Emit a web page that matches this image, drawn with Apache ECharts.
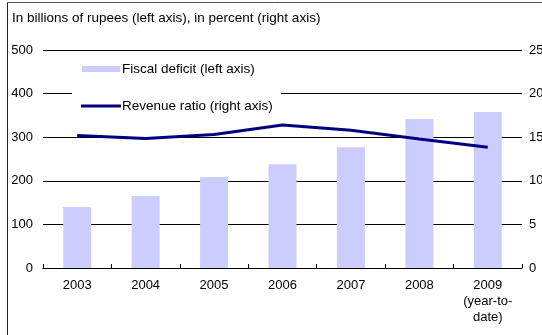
<!DOCTYPE html>
<html>
<head>
<meta charset="utf-8">
<script src="https://cdn.jsdelivr.net/npm/echarts@6/dist/echarts.min.js"></script>
<style>
  html, body { margin: 0; padding: 0; background: #fff; }
  #chart { width: 542px; height: 335px; }
</style>
</head>
<body>
<div id="chart"></div>
<script>
// Fiscal deficit (billions of rupees) and revenue ratio (percent), 2003-2009
var years = ['2003', '2004', '2005', '2006', '2007', '2008', '2009\n(year-to-\ndate)'];
var fiscalDeficit = [140, 165, 209, 238, 277, 342, 358];
var revenueRatio = [15.2, 14.85, 15.3, 16.4, 15.8, 14.8, 13.85];
var leftTicks = [0, 500, 100];   // min, max, step
var rightTicks = [0, 25, 5];

var FONT = 'Liberation Sans, Arial, sans-serif';

var chart = echarts.init(document.getElementById('chart'), null, { renderer: 'canvas' });

chart.setOption({
  animation: false,
  backgroundColor: '#fff',
  textStyle: { fontFamily: FONT, color: '#000' },
  title: {
    text: 'In billions of rupees (left axis), in percent (right axis)',
    left: 8,
    top: 11,
    padding: [0, 4],
    textStyle: { fontFamily: FONT, fontSize: 13.5, fontWeight: 'normal', color: '#000' }
  },
  grid: {
    left: 43, right: 20, top: 50, bottom: 67,
    containLabel: false,
    outerBoundsMode: 'none'
  },
  legend: [
    {
      data: [{ name: 'Fiscal deficit (left axis)', icon: 'rect' }],
      orient: 'vertical',
      left: 73,
      top: 58,
      padding: [4, 9, 4, 9],
      itemWidth: 38,
      itemHeight: 6,
      itemGap: 0,
      backgroundColor: '#fff',
      textStyle: { fontFamily: FONT, fontSize: 13.5, color: '#000', padding: [0, 0, 0, -3] }
    },
    {
      data: [{ name: 'Revenue ratio (right axis)', icon: 'rect' }],
      orient: 'vertical',
      left: 72,
      top: 90,
      padding: [9, 8, 6, 9],
      itemWidth: 40,
      itemHeight: 3,
      itemGap: 0,
      backgroundColor: '#fff',
      textStyle: { fontFamily: FONT, fontSize: 13.5, color: '#000', padding: [0, 0, 0, -4] }
    }
  ],
  xAxis: {
    type: 'category',
    data: years,
    boundaryGap: true,
    axisLine: { show: true, lineStyle: { color: '#000', width: 1 } },
    axisTick: { show: true, inside: true, length: 4, lineStyle: { color: '#000' } },
    axisLabel: { fontFamily: FONT, fontSize: 13, color: '#000', margin: 9, lineHeight: 16 },
    splitLine: { show: false }
  },
  yAxis: [
    {
      type: 'value',
      min: leftTicks[0],
      max: leftTicks[1],
      interval: leftTicks[2],
      axisLine: { show: false },
      axisTick: { show: false },
      axisLabel: { fontFamily: FONT, fontSize: 13, color: '#000', margin: 10 },
      splitLine: { show: true, lineStyle: { color: '#000', width: 1.2 } }
    },
    {
      type: 'value',
      min: rightTicks[0],
      max: rightTicks[1],
      interval: rightTicks[2],
      position: 'right',
      axisLine: { show: false },
      axisTick: { show: false },
      axisLabel: { fontFamily: FONT, fontSize: 13, color: '#000', margin: 7 },
      splitLine: { show: false }
    }
  ],
  series: [
    {
      name: 'Fiscal deficit (left axis)',
      type: 'bar',
      yAxisIndex: 0,
      data: fiscalDeficit,
      barWidth: 28,
      itemStyle: { color: '#CCCCFF' },
      z: 1
    },
    {
      name: 'Revenue ratio (right axis)',
      type: 'line',
      yAxisIndex: 1,
      data: revenueRatio,
      showSymbol: false,
      symbol: 'none',
      lineStyle: { color: '#000080', width: 3 },
      itemStyle: { color: '#000080' },
      z: 3
    }
  ],
  graphic: [
    {
      type: 'line',
      shape: { x1: 7.5, y1: 3, x2: 7.5, y2: 335 },
      style: { stroke: '#222', lineWidth: 1 },
      z: 10
    },
    {
      type: 'line',
      shape: { x1: 7, y1: 2.5, x2: 542, y2: 2.5 },
      style: { stroke: '#555', lineWidth: 1 },
      z: 10
    }
  ]
});
</script>
</body>
</html>
